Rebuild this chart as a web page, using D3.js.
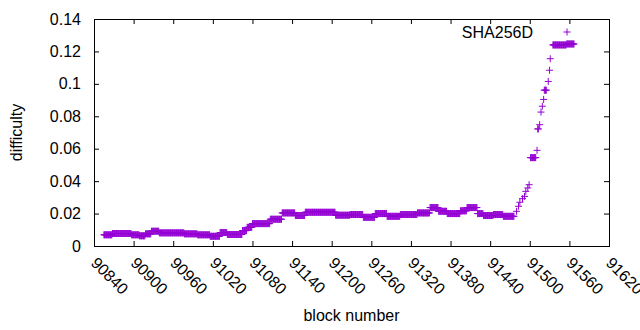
<!DOCTYPE html>
<html>
<head>
<meta charset="utf-8">
<script src="https://cdn.jsdelivr.net/npm/d3@7"></script>
<style>
  body { margin: 0; background: #fff; }
  svg text { font-family: "Liberation Sans", Arial, sans-serif; font-size: 16px; fill: #000; }
</style>
</head>
<body>
<div id="chart"></div>
<script>
'use strict';

// runs of blocks sharing one difficulty (start, end, value)
const runStart = [90855, 90868, 90897, 90909, 90918, 90927, 90939, 90977, 90997, 91016,
    91031, 91042, 91065, 91072, 91080, 91107, 91125, 91145, 91160, 91206,
    91228, 91248, 91266, 91284, 91304, 91330, 91349, 91362, 91375, 91395,
    91405, 91421, 91430, 91445, 91460, 91480, 91483, 91485, 91489, 91492,
    91494, 91497, 91499, 91501, 91511, 91512, 91515, 91517, 91519, 91521,
    91522, 91528, 91530, 91531, 91535, 91556]
const runEnd = [90867, 90896, 90908, 90917, 90926, 90938, 90976, 90996, 91015, 91030,
    91041, 91064, 91071, 91079, 91106, 91124, 91144, 91159, 91205, 91227,
    91247, 91265, 91283, 91303, 91329, 91348, 91361, 91374, 91394, 91404,
    91420, 91429, 91444, 91459, 91476, 91480, 91483, 91485, 91489, 91492,
    91494, 91497, 91499, 91509, 91511, 91513, 91515, 91517, 91519, 91521,
    91525, 91528, 91530, 91531, 91555, 91567]
const runDiff = [0.0069, 0.0077, 0.0069, 0.0063, 0.0075, 0.0091, 0.0081, 0.0075, 0.0069, 0.0060,
    0.0083, 0.0071, 0.0095, 0.0115, 0.0138, 0.0165, 0.0204, 0.0188, 0.0208, 0.0190,
    0.0194, 0.0177, 0.0200, 0.0183, 0.0194, 0.0204, 0.0237, 0.0214, 0.0200, 0.0217,
    0.0237, 0.0200, 0.0188, 0.0194, 0.0183, 0.0214, 0.0245, 0.0270, 0.0292, 0.0306,
    0.0337, 0.0358, 0.0378, 0.0545, 0.0590, 0.0722, 0.0748, 0.0826, 0.0862, 0.0904,
    0.0961, 0.1015, 0.1084, 0.1155, 0.1240, 0.1246]

const xTicks = [90840, 90900, 90960, 91020, 91080, 91140, 91200, 91260, 91320, 91380, 91440, 91500, 91560, 91620]
const yTicks = [0, 0.02, 0.04, 0.06, 0.08, 0.1, 0.12, 0.14]
const seriesName = 'SHA256D'

const width = 640, height = 330
const margin = { top: 19, right: 31, bottom: 84, left: 94 }
const plotW = width - margin.left - margin.right,
    plotH = height - margin.top - margin.bottom
const color = '#9400d3'

// one point per block inside each run
let points = []
runStart.forEach((s, i) => {
    for (let b = s; b <= runEnd[i]; b++) points.push({ block: b, diff: runDiff[i] })
})

const svg = d3.select('#chart').append('svg')
    .attr('width', width)
    .attr('height', height)

const g = svg.append('g')
    .attr('transform', `translate(${margin.left}, ${margin.top})`)

const xScale = d3.scaleLinear().domain([90840, 91620]).range([0, plotW])
const yScale = d3.scaleLinear().domain([0, 0.14]).range([plotH, 0])

const tick = 5
// ticks on all four sides, mirrored inward
g.append('g').attr('transform', `translate(0, ${plotH})`)
    .call(d3.axisBottom(xScale).tickValues(xTicks).tickSize(-tick).tickFormat(''))
g.append('g')
    .call(d3.axisTop(xScale).tickValues(xTicks).tickSize(-tick).tickFormat(''))
g.append('g')
    .call(d3.axisLeft(yScale).tickValues(yTicks).tickSize(-tick).tickFormat(''))
g.append('g').attr('transform', `translate(${plotW}, 0)`)
    .call(d3.axisRight(yScale).tickValues(yTicks).tickSize(-tick).tickFormat(''))
g.selectAll('.domain').remove()
g.selectAll('.tick line').attr('stroke', '#000')

g.append('rect')
    .attr('x', 0.5).attr('y', 0.5)
    .attr('width', plotW).attr('height', plotH)
    .attr('fill', 'none').attr('stroke', '#000')

// tick labels
g.append('g').selectAll('text')
    .data(yTicks)
    .join('text')
    .attr('x', -13)
    .attr('y', d => yScale(d))
    .attr('dy', '0.35em')
    .attr('text-anchor', 'end')
    .text(d => d)

g.append('g').selectAll('text')
    .data(xTicks)
    .join('text')
    .attr('transform', d => `translate(${xScale(d)}, ${plotH + 14}) rotate(45)`)
    .attr('dy', '0.35em')
    .attr('text-anchor', 'start')
    .text(d => d)

// axis titles
svg.append('text')
    .attr('transform', `translate(22, ${margin.top + plotH / 2}) rotate(-90)`)
    .attr('text-anchor', 'middle')
    .text('difficulty')
svg.append('text')
    .attr('x', margin.left + plotW / 2)
    .attr('y', 321)
    .attr('text-anchor', 'middle')
    .text('block number')

const arm = 3.5
const plusPath = `M${-arm},0H${arm}M0,${-arm}V${arm}`

g.append('g').selectAll('path')
    .data(points)
    .join('path')
    .attr('transform', d => `translate(${xScale(d.block)}, ${yScale(d.diff)})`)
    .attr('d', plusPath)
    .attr('stroke', color)
    .attr('stroke-width', 1)
    .attr('fill', 'none')

// key
g.append('text')
    .attr('x', 439)
    .attr('y', 13)
    .attr('dy', '0.35em')
    .attr('text-anchor', 'end')
    .text(seriesName)
g.append('path')
    .attr('transform', `translate(473, 13)`)
    .attr('d', plusPath)
    .attr('stroke', color)
    .attr('fill', 'none')
</script>
</body>
</html>
